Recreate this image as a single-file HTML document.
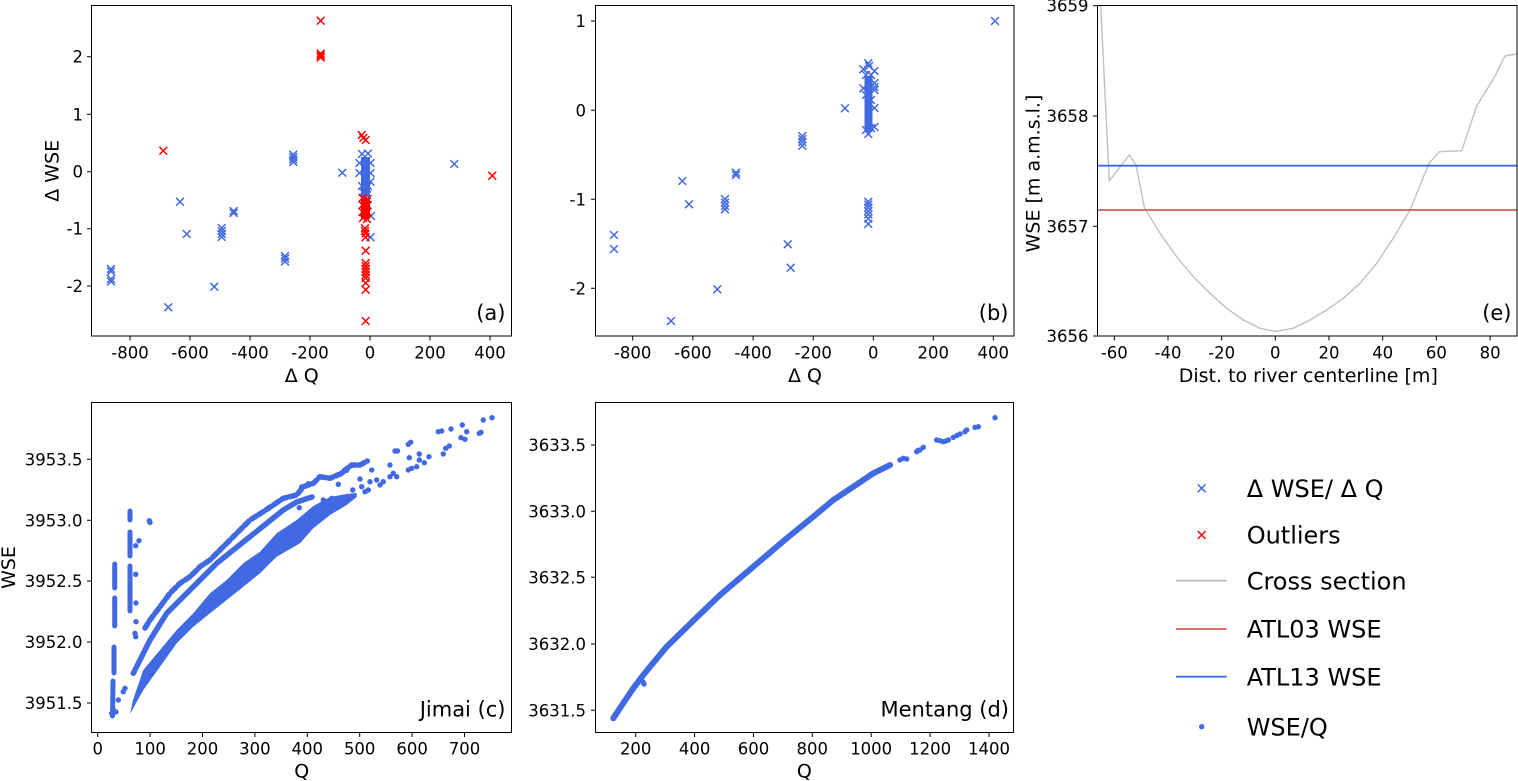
<!DOCTYPE html>
<html><head><meta charset="utf-8"><style>
html,body{margin:0;padding:0;background:#fff;overflow:hidden;}
svg{display:block;}
text{font-family:"DejaVu Sans","Liberation Sans",sans-serif;fill:#000;}
.t{font-size:16.5px;}
.yl{text-anchor:end;}
.xl{text-anchor:middle;}
.al{font-size:19px;text-anchor:middle;}
.pl{font-size:21px;text-anchor:end;}
.lg{font-size:24px;}
</style></head><body>
<svg width="1518" height="781" viewBox="0 0 1518 781" xmlns="http://www.w3.org/2000/svg">
<defs>
<path id="xm" d="M-3.9,-3.9L3.9,3.9M-3.9,3.9L3.9,-3.9"/>
</defs>

<!-- ============ Panel (a) ============ -->
<g fill="#4169e1"><rect x="361" y="157" width="9" height="40"/></g>
<g stroke="#4169e1" stroke-width="1.5" fill="none">
<use href="#xm" x="111" y="269"/><use href="#xm" x="111" y="271.5"/><use href="#xm" x="111" y="279"/><use href="#xm" x="111" y="281.5"/>
<use href="#xm" x="168.3" y="307.3"/><use href="#xm" x="180" y="201.7"/><use href="#xm" x="186.7" y="234"/><use href="#xm" x="214.3" y="286.7"/>
<use href="#xm" x="221.7" y="228"/><use href="#xm" x="221.7" y="231"/><use href="#xm" x="221.7" y="234"/><use href="#xm" x="221.7" y="237"/>
<use href="#xm" x="233.7" y="211"/><use href="#xm" x="233.7" y="213"/>
<use href="#xm" x="285" y="256"/><use href="#xm" x="285" y="258.5"/><use href="#xm" x="285" y="261.5"/>
<use href="#xm" x="293.3" y="154.5"/><use href="#xm" x="293.3" y="157"/><use href="#xm" x="293.3" y="159.5"/><use href="#xm" x="293.3" y="162"/>
<use href="#xm" x="342.3" y="172.7"/><use href="#xm" x="454.3" y="164"/>
<use href="#xm" x="362" y="154"/><use href="#xm" x="368" y="153.5"/><use href="#xm" x="359.5" y="163"/><use href="#xm" x="370.5" y="163"/>
<use href="#xm" x="359.5" y="173"/><use href="#xm" x="370.5" y="173"/><use href="#xm" x="370.5" y="181.7"/><use href="#xm" x="371" y="216"/>
<use href="#xm" x="370.5" y="237.3"/><use href="#xm" x="362" y="186"/><use href="#xm" x="368" y="186"/><use href="#xm" x="363" y="192"/><use href="#xm" x="367" y="195"/>
</g>
<g fill="#ff0000"><rect x="361" y="198" width="9" height="21"/></g>
<g stroke="#ff0000" stroke-width="1.5" fill="none">
<use href="#xm" x="320.7" y="20.7"/><use href="#xm" x="320.7" y="53.5"/><use href="#xm" x="320.7" y="55.5"/><use href="#xm" x="320.7" y="57.5"/>
<use href="#xm" x="163.3" y="150.7"/><use href="#xm" x="361.7" y="135"/><use href="#xm" x="363.3" y="138"/><use href="#xm" x="365.7" y="140"/>
<use href="#xm" x="492.3" y="175.7"/>
<use href="#xm" x="362.5" y="198"/><use href="#xm" x="367.5" y="199"/><use href="#xm" x="362.5" y="205"/><use href="#xm" x="367.5" y="205"/>
<use href="#xm" x="362.5" y="212"/><use href="#xm" x="367.5" y="212"/><use href="#xm" x="363" y="218"/><use href="#xm" x="367" y="219"/>
<use href="#xm" x="365" y="228.3"/><use href="#xm" x="365" y="231"/><use href="#xm" x="365.5" y="233.5"/><use href="#xm" x="365.5" y="237.3"/>
<use href="#xm" x="365.7" y="250.7"/><use href="#xm" x="365.7" y="263"/><use href="#xm" x="365.7" y="266"/><use href="#xm" x="365.7" y="269"/>
<use href="#xm" x="365.7" y="272"/><use href="#xm" x="365.7" y="275"/><use href="#xm" x="365.7" y="278"/><use href="#xm" x="365.7" y="283"/>
<use href="#xm" x="365.7" y="289.7"/><use href="#xm" x="365.7" y="321"/>
</g>
<rect x="91.5" y="5.5" width="420" height="330.5" fill="none" stroke="#000" stroke-width="1"/>
<g stroke="#000" stroke-width="1">
<path d="M87,56.7H91.5M87,114.3H91.5M87,171.7H91.5M87,228.7H91.5M87,286H91.5"/>
<path d="M130,336V340.5M190,336V340.5M250,336V340.5M310,336V340.5M370,336V340.5M430,336V340.5M490,336V340.5"/>
</g>
<g class="t yl">
<text x="83" y="62.7">2</text><text x="83" y="120.3">1</text><text x="83" y="177.7">0</text><text x="83" y="234.7">-1</text><text x="83" y="292">-2</text>
</g>
<g class="t xl">
<text x="130" y="358.3">-800</text><text x="190" y="358.3">-600</text><text x="250" y="358.3">-400</text><text x="310" y="358.3">-200</text><text x="370" y="358.3">0</text><text x="430" y="358.3">200</text><text x="490" y="358.3">400</text>
</g>
<text class="al" x="301.7" y="382">Δ Q</text>
<text class="al" transform="translate(58.5,170.8) rotate(-90)">Δ WSE</text>
<text class="pl" x="505.5" y="320">(a)</text>

<!-- ============ Panel (b) ============ -->
<g fill="#4169e1"><rect x="864.5" y="76" width="8" height="56"/></g>
<g stroke="#4169e1" stroke-width="1.5" fill="none">
<use href="#xm" x="614" y="235"/><use href="#xm" x="614" y="249"/><use href="#xm" x="671" y="321"/><use href="#xm" x="682.3" y="181"/>
<use href="#xm" x="689" y="204.3"/><use href="#xm" x="717.3" y="289.3"/>
<use href="#xm" x="725" y="199"/><use href="#xm" x="725" y="202.5"/><use href="#xm" x="725" y="206"/><use href="#xm" x="725" y="209.3"/>
<use href="#xm" x="736" y="172.7"/><use href="#xm" x="736" y="175"/>
<use href="#xm" x="787.7" y="244.3"/><use href="#xm" x="790.7" y="267.7"/>
<use href="#xm" x="802.3" y="136"/><use href="#xm" x="802.3" y="139"/><use href="#xm" x="802.3" y="142"/><use href="#xm" x="802.3" y="145.7"/>
<use href="#xm" x="845" y="108.3"/><use href="#xm" x="863.3" y="69.3"/><use href="#xm" x="863.3" y="88.3"/><use href="#xm" x="868.3" y="63.3"/><use href="#xm" x="869" y="66"/>
<use href="#xm" x="874.5" y="71"/><use href="#xm" x="874.5" y="83"/><use href="#xm" x="874.5" y="87"/><use href="#xm" x="874.5" y="90"/>
<use href="#xm" x="874.5" y="108"/><use href="#xm" x="874.5" y="127"/>
<use href="#xm" x="866" y="75"/><use href="#xm" x="871" y="75"/><use href="#xm" x="866" y="95"/><use href="#xm" x="871" y="100"/>
<use href="#xm" x="868.3" y="134"/><use href="#xm" x="866" y="130"/><use href="#xm" x="871" y="128"/>
<use href="#xm" x="868.3" y="201.7"/><use href="#xm" x="868.3" y="204.5"/><use href="#xm" x="868.3" y="207.5"/><use href="#xm" x="868.3" y="211"/>
<use href="#xm" x="868.3" y="214.5"/><use href="#xm" x="868.3" y="218.5"/><use href="#xm" x="868.3" y="224"/>
<use href="#xm" x="995" y="21"/>
</g>
<rect x="595.5" y="5.5" width="418.5" height="330.5" fill="none" stroke="#000" stroke-width="1"/>
<g stroke="#000" stroke-width="1">
<path d="M591,21H595.5M591,110.3H595.5M591,199.3H595.5M591,288.3H595.5"/>
<path d="M632.7,336V340.5M692.9,336V340.5M753.1,336V340.5M813.2,336V340.5M873.3,336V340.5M933.3,336V340.5M993.3,336V340.5"/>
</g>
<g class="t yl">
<text x="586" y="27">1</text><text x="586" y="116.3">0</text><text x="586" y="205.3">-1</text><text x="586" y="294.3">-2</text>
</g>
<g class="t xl">
<text x="632.7" y="358.3">-800</text><text x="692.9" y="358.3">-600</text><text x="753.1" y="358.3">-400</text><text x="813.2" y="358.3">-200</text><text x="873.3" y="358.3">0</text><text x="933.3" y="358.3">200</text><text x="993.3" y="358.3">400</text>
</g>
<text class="al" x="805" y="382">Δ Q</text>
<text class="pl" x="1008.5" y="320">(b)</text>

<!-- ============ Panel (e) ============ -->
<polyline fill="none" stroke="#c0c0c0" stroke-width="1.4" stroke-linejoin="round" points="1100.7,5.7 1109.3,181 1129.3,155 1136,165 1144.3,207.3 1160,233.3 1176.7,256.7 1193.3,276.7 1210,293.3 1226.7,308.3 1243.3,320 1260,328.3 1275.3,331.5 1293.3,328.3 1310,320 1326.7,310 1343.3,298.3 1360,283.3 1376.7,263.3 1393.3,238.3 1410,210 1429,163.3 1439.3,151.7 1461.7,150.7 1476.7,106 1493.3,79.3 1505,56 1517,54"/>
<line x1="1097.5" y1="165.7" x2="1517" y2="165.7" stroke="#4169e1" stroke-width="1.8"/>
<line x1="1097.5" y1="210" x2="1517" y2="210" stroke="#cd5c5c" stroke-width="1.8"/>
<rect x="1097.5" y="5.5" width="419.5" height="330.5" fill="none" stroke="#000" stroke-width="1"/>
<g stroke="#000" stroke-width="1">
<path d="M1093,5.7H1097.5M1093,116H1097.5M1093,226.3H1097.5M1093,336H1097.5"/>
<path d="M1114.3,336V340.5M1168,336V340.5M1221.7,336V340.5M1275.3,336V340.5M1329,336V340.5M1382.7,336V340.5M1436.4,336V340.5M1490.1,336V340.5"/>
</g>
<g class="t yl">
<text x="1088.5" y="11.7">3659</text><text x="1088.5" y="122">3658</text><text x="1088.5" y="232.3">3657</text><text x="1088.5" y="342">3656</text>
</g>
<g class="t xl">
<text x="1114.3" y="358.3">-60</text><text x="1168" y="358.3">-40</text><text x="1221.7" y="358.3">-20</text><text x="1275.3" y="358.3">0</text><text x="1329" y="358.3">20</text><text x="1382.7" y="358.3">40</text><text x="1436.4" y="358.3">60</text><text x="1490.1" y="358.3">80</text>
</g>
<text class="al" x="1308.3" y="382">Dist. to river centerline [m]</text>
<text class="al" transform="translate(1039.5,173.5) rotate(-90)">WSE [m a.m.s.l.]</text>
<text class="pl" x="1511.5" y="320">(e)</text>

<!-- ============ Panel (c) ============ -->
<polygon fill="#4169e1" points="130,714 143.3,690 160,666.7 176.7,643.3 193.3,626.7 210,613.3 226.7,600 243.3,586.7 260,573.3 276.7,556.7 300,543.3 313.3,528.3 330,515 346.7,505 356.7,497 356.7,493 346.7,494 330,497 313.3,506 296.7,520 276.7,533.3 260,551.7 243.3,563.3 226.7,580 210,593.3 193.3,613.3 176.7,630 160,650 143.3,670 133,700"/>
<g fill="none" stroke="#4169e1" stroke-linecap="round" stroke-linejoin="round">
<polyline stroke-width="5.5" points="133.3,673.3 150,640 166.7,613.3 183.3,596.7 200,580 216.7,563.3 233.3,550 250,536.7 266.7,523.3 283.3,510 296.7,502 312,497"/>
<polyline stroke-width="5.5" stroke-dasharray="6 3" points="145,628 150,620 160,606.7 170,593.3 180,583.3 190,576.7 200,566.7 210,560 223.3,546.7 236.7,533.3 250,520 263.3,511.7 283.3,498.3 296.7,495 303.3,486.7 313.3,483.3 320,476.7 330,478.3 341.7,473.3 345,470 351.7,465 360,465 367.3,461"/>
<path stroke-width="5" d="M114.7,564V588M114.7,598V626M114,647V673M113,681L112.5,716M130,511V520M130,532V556M130,566V611"/>
</g>
<g fill="#4169e1">
<circle cx="111.7" cy="713.3" r="2.7"/><circle cx="113.3" cy="710" r="2.7"/><circle cx="116" cy="712" r="2.7"/><circle cx="118.3" cy="700" r="2.7"/>
<circle cx="125" cy="688.3" r="2.7"/><circle cx="123.3" cy="691.7" r="2.7"/>
<circle cx="149.3" cy="520.7" r="2.7"/><circle cx="150" cy="522.5" r="2.7"/><circle cx="139" cy="540.7" r="2.7"/><circle cx="135.7" cy="545.7" r="2.7"/>
<circle cx="135.7" cy="574.3" r="2.7"/><circle cx="136" cy="603" r="2.7"/><circle cx="136" cy="621.7" r="2.7"/><circle cx="135" cy="633.3" r="2.7"/><circle cx="135.7" cy="636.7" r="2.7"/>
<circle cx="338.3" cy="484.3" r="2.7"/><circle cx="360" cy="479" r="2.7"/><circle cx="361.7" cy="486.7" r="2.7"/><circle cx="365" cy="491.7" r="2.7"/>
<circle cx="368.3" cy="490" r="2.7"/><circle cx="371.7" cy="470" r="2.7"/><circle cx="370" cy="481.7" r="2.7"/><circle cx="376.7" cy="480" r="2.7"/>
<circle cx="380" cy="485" r="2.7"/><circle cx="383.3" cy="481.7" r="2.7"/><circle cx="390" cy="476.7" r="2.7"/><circle cx="393.3" cy="473.3" r="2.7"/>
<circle cx="396.7" cy="476.7" r="2.7"/><circle cx="390" cy="465" r="2.7"/><circle cx="395" cy="451" r="2.7"/><circle cx="397.5" cy="451" r="2.7"/>
<circle cx="409.3" cy="457.7" r="2.7"/><circle cx="408.3" cy="470" r="2.7"/><circle cx="411.7" cy="468.3" r="2.7"/><circle cx="416.7" cy="466.7" r="2.7"/>
<circle cx="419.3" cy="454" r="2.7"/><circle cx="419.3" cy="460" r="2.7"/><circle cx="424.3" cy="462.7" r="2.7"/><circle cx="429" cy="456.7" r="2.7"/>
<circle cx="408.3" cy="444.3" r="2.7"/><circle cx="410.7" cy="442.3" r="2.7"/><circle cx="443.3" cy="454" r="2.7"/><circle cx="445.7" cy="448.3" r="2.7"/>
<circle cx="449.3" cy="446" r="2.7"/><circle cx="438.3" cy="431.7" r="2.7"/><circle cx="441.7" cy="431" r="2.7"/><circle cx="451" cy="429" r="2.7"/>
<circle cx="462.3" cy="425" r="2.7"/><circle cx="466.7" cy="431.7" r="2.7"/><circle cx="461" cy="437.7" r="2.7"/><circle cx="465" cy="439.3" r="2.7"/>
<circle cx="479.3" cy="433.3" r="2.7"/><circle cx="481" cy="432.3" r="2.7"/><circle cx="483.3" cy="420" r="2.7"/><circle cx="492" cy="417.7" r="2.7"/>
<circle cx="299.3" cy="507.7" r="2.7"/><circle cx="323.3" cy="500" r="2.7"/><circle cx="352.7" cy="490" r="2.7"/><circle cx="331.7" cy="498.3" r="2.7"/>
<circle cx="301.7" cy="487" r="2.7"/><circle cx="308.3" cy="483.7" r="2.7"/><circle cx="319.3" cy="477" r="2.7"/><circle cx="346.7" cy="470.3" r="2.7"/>
<circle cx="343.3" cy="472" r="2.7"/><circle cx="346.7" cy="497" r="2.7"/>
</g>
<rect x="91.5" y="402.5" width="420" height="330" fill="none" stroke="#000" stroke-width="1"/>
<g stroke="#000" stroke-width="1">
<path d="M87,459.3H91.5M87,520.3H91.5M87,581H91.5M87,642H91.5M87,703H91.5"/>
<path d="M97.7,732.5V737M150.1,732.5V737M202.5,732.5V737M254.9,732.5V737M307.3,732.5V737M359.7,732.5V737M412.1,732.5V737M464.5,732.5V737"/>
</g>
<g class="t yl">
<text x="82.5" y="465.3">3953.5</text><text x="82.5" y="526.3">3953.0</text><text x="82.5" y="587">3952.5</text><text x="82.5" y="648">3952.0</text><text x="82.5" y="709">3951.5</text>
</g>
<g class="t xl">
<text x="97.7" y="754.5">0</text><text x="150.1" y="754.5">100</text><text x="202.5" y="754.5">200</text><text x="254.9" y="754.5">300</text><text x="307.3" y="754.5">400</text><text x="359.7" y="754.5">500</text><text x="412.1" y="754.5">600</text><text x="464.5" y="754.5">700</text>
</g>
<text class="al" x="301.7" y="777.5">Q</text>
<text class="al" transform="translate(15,567.5) rotate(-90)">WSE</text>
<text class="pl" x="505.5" y="716.7">Jimai (c)</text>

<!-- ============ Panel (d) ============ -->
<polyline fill="none" stroke="#4169e1" stroke-width="6" stroke-linecap="round" stroke-linejoin="round" points="613.3,718.3 622,705 633.3,688.3 643.3,675 650,666.7 666.7,646.7 694,620 720,595 753.3,566.7 786.7,538.3 813.3,516.7 833.3,500 853.3,486.7 873.3,473.3 890,465"/>
<g fill="#4169e1">
<circle cx="643" cy="682" r="2.7"/><circle cx="644" cy="684" r="2.7"/><circle cx="880" cy="470" r="2.7"/><circle cx="886" cy="467" r="2.7"/>
<circle cx="900" cy="460" r="2.7"/><circle cx="903.3" cy="458.3" r="2.7"/><circle cx="906.7" cy="459" r="2.7"/><circle cx="916.7" cy="451.7" r="2.7"/>
<circle cx="918" cy="450.5" r="2.7"/><circle cx="920" cy="450" r="2.7"/><circle cx="923.3" cy="447.3" r="2.7"/><circle cx="936.7" cy="440" r="2.7"/>
<circle cx="940" cy="440.7" r="2.7"/><circle cx="943.3" cy="441.7" r="2.7"/><circle cx="946" cy="441" r="2.7"/><circle cx="948.3" cy="440" r="2.7"/>
<circle cx="953.3" cy="437.3" r="2.7"/><circle cx="957" cy="435.5" r="2.7"/><circle cx="960" cy="434" r="2.7"/><circle cx="965" cy="431.7" r="2.7"/>
<circle cx="966.7" cy="430" r="2.7"/><circle cx="975" cy="427.3" r="2.7"/><circle cx="978.3" cy="426.7" r="2.7"/><circle cx="995" cy="417.7" r="2.7"/>
</g>
<rect x="595.5" y="402.5" width="418" height="330" fill="none" stroke="#000" stroke-width="1"/>
<g stroke="#000" stroke-width="1">
<path d="M591,445H595.5M591,511.3H595.5M591,577.3H595.5M591,644H595.5M591,710.3H595.5"/>
<path d="M635.7,732.5V737M694.6,732.5V737M753.5,732.5V737M812.3,732.5V737M871.2,732.5V737M930.1,732.5V737M989,732.5V737"/>
</g>
<g class="t yl">
<text x="586" y="451">3633.5</text><text x="586" y="517.3">3633.0</text><text x="586" y="583.3">3632.5</text><text x="586" y="650">3632.0</text><text x="586" y="716.3">3631.5</text>
</g>
<g class="t xl">
<text x="635.7" y="754.5">200</text><text x="694.6" y="754.5">400</text><text x="753.5" y="754.5">600</text><text x="812.3" y="754.5">800</text><text x="871.2" y="754.5">1000</text><text x="930.1" y="754.5">1200</text><text x="989" y="754.5">1400</text>
</g>
<text class="al" x="804.3" y="777.5">Q</text>
<text class="pl" x="1009" y="716.7">Mentang (d)</text>

<!-- ============ Legend ============ -->
<g stroke-width="1.5" fill="none">
<use href="#xm" x="1201.7" y="488.3" stroke="#4169e1"/>
<use href="#xm" x="1201.7" y="535" stroke="#ff0000"/>
<line x1="1176" y1="580.7" x2="1226.7" y2="580.7" stroke="#c0c0c0" stroke-width="1.8"/>
<line x1="1176" y1="629" x2="1226.7" y2="629" stroke="#cd5c5c" stroke-width="1.8"/>
<line x1="1176" y1="676.7" x2="1226.7" y2="676.7" stroke="#4169e1" stroke-width="1.8"/>
</g>
<circle cx="1201.7" cy="726.7" r="2.7" fill="#4169e1"/>
<g class="lg">
<text x="1246.7" y="497">Δ WSE/ Δ Q</text>
<text x="1246.7" y="543.5">Outliers</text>
<text x="1246.7" y="589.4">Cross section</text>
<text x="1246.7" y="637.7">ATL03 WSE</text>
<text x="1246.7" y="685.4">ATL13 WSE</text>
<text x="1246.7" y="735.4">WSE/Q</text>
</g>
</svg>
</body></html>
